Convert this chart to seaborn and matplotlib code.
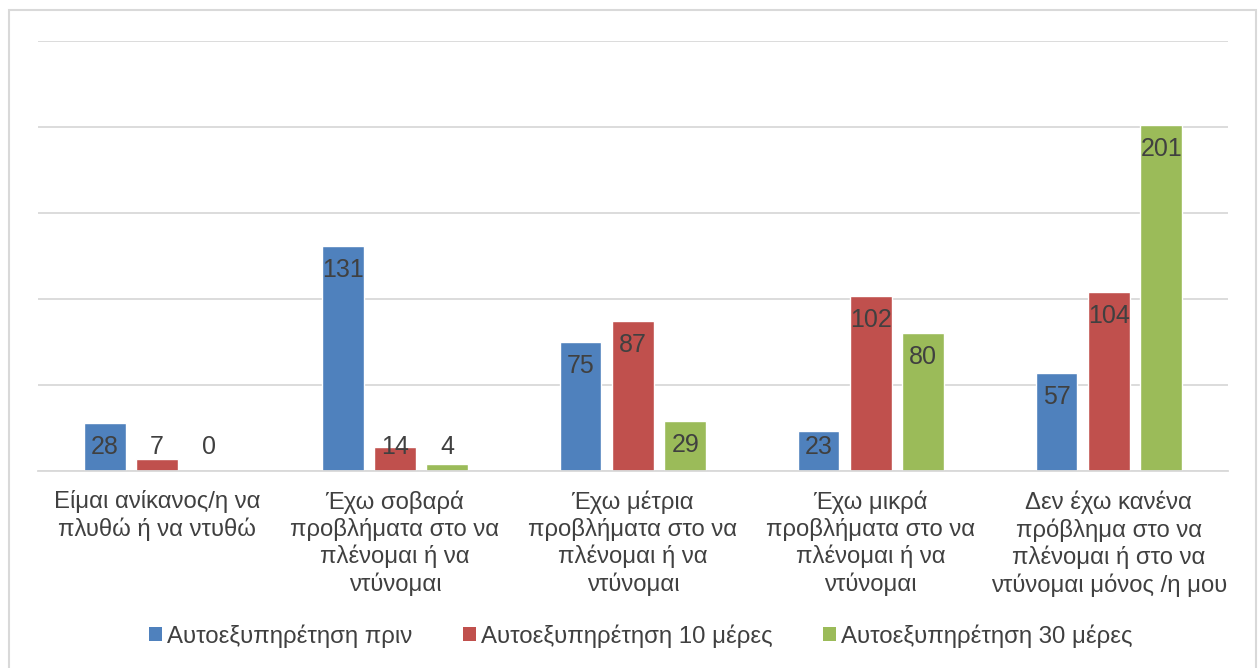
import matplotlib
matplotlib.use("Agg")
import matplotlib.pyplot as plt
import seaborn as sns
import pandas as pd
from matplotlib.patches import Rectangle, Patch

categories = [
    "Είμαι ανίκανος/η να\nπλυθώ ή να ντυθώ",
    "Έχω σοβαρά\nπροβλήματα στο να\nπλένομαι ή να\nντύνομαι",
    "Έχω μέτρια\nπροβλήματα στο να\nπλένομαι ή να\nντύνομαι",
    "Έχω μικρά\nπροβλήματα στο να\nπλένομαι ή να\nντύνομαι",
    "Δεν έχω κανένα\nπρόβλημα στο να\nπλένομαι ή στο να\nντύνομαι μόνος /η μου",
]
series_names = [
    "Αυτοεξυπηρέτηση πριν",
    "Αυτοεξυπηρέτηση 10 μέρες",
    "Αυτοεξυπηρέτηση 30 μέρες",
]
before = [28, 131, 75, 23, 57]
after_10 = [7, 14, 87, 102, 104]
after_30 = [0, 4, 29, 80, 201]
colors = ["#4F81BD", "#C0504D", "#9BBB59"]

sns.set_theme(style="white")
plt.rcParams["font.family"] = ["Liberation Sans", "DejaVu Sans"]

rows = []
for name, vals in zip(series_names, [before, after_10, after_30]):
    for cat, v in zip(categories, vals):
        rows.append({"category": cat, "series": name, "value": v})
df = pd.DataFrame(rows)

fig = plt.figure(figsize=(12.59, 6.68), dpi=100)
ax = fig.add_axes([0.0302, 0.2949, 0.945, 0.6437])

sns.barplot(data=df, x="category", y="value", hue="series",
            palette=colors, hue_order=series_names, order=categories,
            width=0.66, gap=0.2, legend=False, ax=ax, saturation=1)

ax.set_ylim(0, 250)
ax.set_yticks(range(0, 251, 50))
ax.set_yticklabels([])
ax.tick_params(axis="y", length=0)
ax.tick_params(axis="x", length=0, pad=14)
ax.yaxis.grid(True, color="#d9d9d9", linewidth=1.3)
ax.set_axisbelow(True)
for s in ["top", "right", "left"]:
    ax.spines[s].set_visible(False)
ax.spines["bottom"].set_color("#d9d9d9")
ax.spines["bottom"].set_linewidth(1.3)
ax.set_xlabel("")
ax.set_ylabel("")
for lbl in ax.get_xticklabels():
    lbl.set_fontsize(17.2)
    lbl.set_color("#404040")
    lbl.set_linespacing(1.22)
    lbl.set_verticalalignment("top")

# value labels inside the bar tops, lifted above the baseline for short bars
offset = 14
for cont in ax.containers:
    for bar in cont:
        v = bar.get_height()
        xc = bar.get_x() + bar.get_width() / 2
        y = max(v - offset, offset)
        ax.text(xc, y, f"{int(round(v))}", ha="center", va="center",
                fontsize=18, color="#404040")

handles = [Patch(facecolor=c, edgecolor="none") for c in colors]
fig.legend(handles, series_names, loc="center", bbox_to_anchor=(0.509, 0.048),
           ncol=3, frameon=False, fontsize=17.3, handlelength=0.55,
           handleheight=0.55, handletextpad=0.2, columnspacing=2.1,
           labelcolor="#404040")

fig.add_artist(Rectangle((0.0075, -0.02), 0.9905, 1.005, transform=fig.transFigure,
                         fill=False, edgecolor="#d9d9d9", linewidth=1.5))

fig.savefig("out.png", dpi=100)
